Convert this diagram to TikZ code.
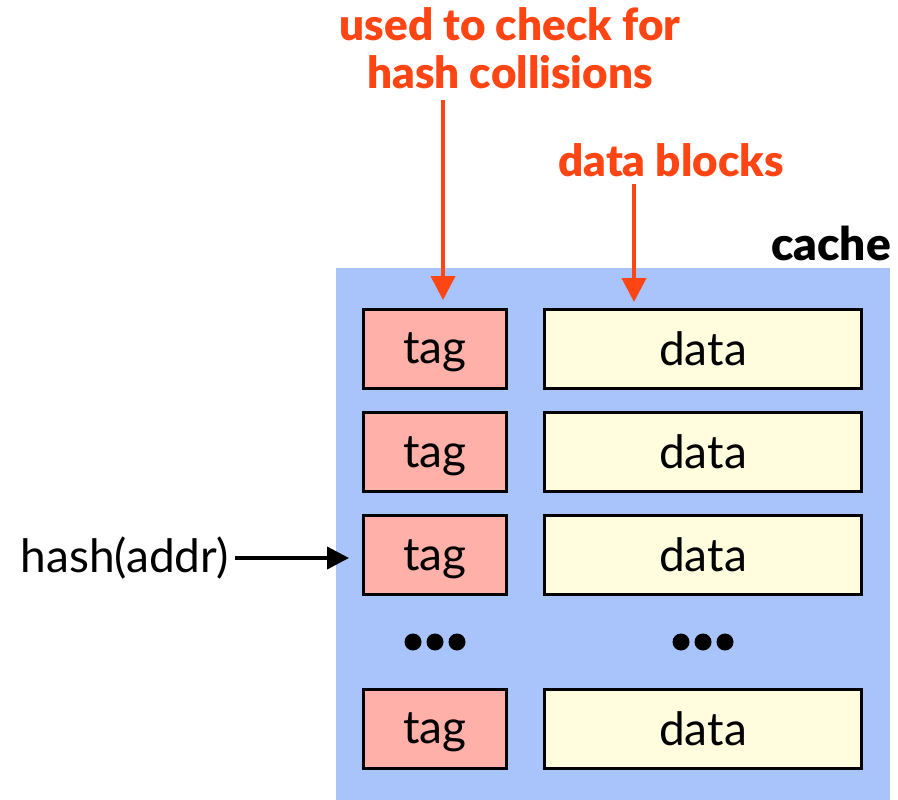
\documentclass[tikz,border=0pt]{standalone}
\usepackage{fontspec}
\setmainfont{Lato}
\newfontfamily\heavyfont{Lato Black}
\usetikzlibrary{arrows.meta}
\definecolor{cacheblue}{HTML}{A8C4FA}
\definecolor{tagpink}{HTML}{FFB0A8}
\definecolor{datacream}{HTML}{FFFDDD}
\definecolor{noteorange}{HTML}{FF4514}
\begin{document}
\begin{tikzpicture}[x=1pt,y=-1pt,
  tagbox/.style={draw=black,line width=3pt,fill=tagpink,minimum width=143pt,minimum height=79pt,inner sep=0pt,text depth=0pt,font=\fontsize{46}{52}\selectfont},
  databox/.style={draw=black,line width=3pt,fill=datacream,minimum width=317pt,minimum height=79pt,inner sep=0pt,text depth=0pt,font=\fontsize{46}{52}\selectfont},
  note/.style={text=noteorange,font=\heavyfont\fontsize{44}{50}\selectfont,align=center,inner sep=0pt},
  notearrow/.style={draw=noteorange,line width=4pt,-{Triangle[width=24pt,length=24pt]}},
  inarrow/.style={draw=black,line width=4pt,-{Triangle[width=22pt,length=22pt]}},
  dot/.style={circle,fill=black,minimum size=17pt,inner sep=0pt}]
\useasboundingbox (0,0) rectangle (898,800);
% cache body
\fill[cacheblue] (336,268) rectangle (890,800);
\node[font=\heavyfont\fontsize{46}{52}\selectfont,anchor=east,inner sep=0pt] (cachelbl) at (891,243) {cache};
% rows of tag / data entries
\foreach \r/\y in {1/348.5,2/452,3/555,5/728.5}{
  \node[tagbox] (tag\r) at (435,\y) {tag};
  \node[databox] (data\r) at (703,\y) {data};
}
% elided rows
\foreach \i/\x in {a/413,b/435,c/457}{\node[dot] (td\i) at (\x,642) {};}
\foreach \i/\x in {a/681,b/703,c/725}{\node[dot] (dd\i) at (\x,642) {};}
% annotations
\node[note] (tagnote) at (510,48) {used to check for\\[-2pt]hash collisions};
\node[note] (datanote) at (671,160) {data blocks};
\coordinate (tagtip) at (443,300);
\coordinate (datatip) at (634,302);
\draw[notearrow] (443,100) -- (tagtip);
\draw[notearrow] (634,184) -- (datatip);
% lookup input
\node[font=\fontsize{46}{52}\selectfont,anchor=east,inner sep=0pt] (hash) at (229,558) {hash(addr)};
\coordinate (hashtip) at (349,558);
\draw[inarrow] (hash.east) ++(6,0) -- (hashtip);
\end{tikzpicture}
\end{document}
